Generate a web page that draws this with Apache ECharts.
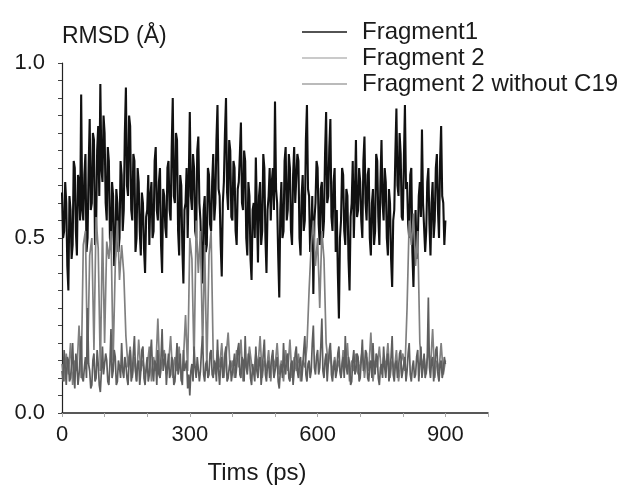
<!DOCTYPE html>
<html>
<head>
<meta charset="utf-8">
<script src="https://cdn.jsdelivr.net/npm/echarts@6/dist/echarts.min.js"></script>
<style>
html,body{margin:0;padding:0;background:#fff;}
#chart{width:628px;height:491px;}
</style>
</head>
<body>
<div id="chart"></div>
<script>
// sampling steps (ps)
const fineStep = 2.5;   // fragment1, fragment2NoC19
const coarseStep = 5;   // fragment2
const xTickLabels = [0, 300, 600, 900];
const yTickLabels = ['0.0', '0.5', '1.0'];
const seriesNames = ['Fragment1', 'Fragment 2', 'Fragment 2 without C19'];

const fragment1 = [
0.63,0.50,0.52,0.66,0.60,0.42,0.35,0.62,0.58,0.44,0.48,0.72,0.70,0.52,0.45,0.68,0.66,0.55,0.91,0.58,
0.55,0.68,0.74,0.46,0.50,0.70,0.84,0.58,0.60,0.80,0.78,0.48,0.52,0.75,0.82,0.62,0.94,0.70,0.66,0.85,
0.80,0.60,0.55,0.76,0.72,0.50,0.48,0.66,0.62,0.42,0.45,0.64,0.60,0.46,0.50,0.72,0.68,0.52,0.58,0.80,
0.93,0.65,0.62,0.85,0.82,0.58,0.55,0.74,0.72,0.46,0.50,0.70,0.66,0.52,0.45,0.63,0.60,0.47,0.40,0.56,
0.58,0.68,0.48,0.62,0.66,0.50,0.52,0.72,0.76,0.58,0.55,0.66,0.70,0.48,0.40,0.64,0.62,0.53,0.50,0.70,
0.72,0.58,0.55,0.76,0.90,0.62,0.60,0.80,0.78,0.52,0.45,0.68,0.65,0.47,0.37,0.58,0.60,0.70,0.50,0.66,
0.86,0.62,0.58,0.74,0.70,0.52,0.50,0.75,0.79,0.60,0.55,0.44,0.37,0.58,0.62,0.46,0.48,0.70,0.68,0.54,
0.52,0.66,0.74,0.55,0.60,0.78,0.88,0.64,0.62,0.48,0.39,0.60,0.66,0.80,0.90,0.63,0.58,0.78,0.75,0.56,
0.55,0.72,0.70,0.52,0.48,0.64,0.66,0.74,0.83,0.60,0.58,0.75,0.72,0.50,0.45,0.66,0.62,0.44,0.38,0.58,
0.60,0.50,0.73,0.58,0.43,0.62,0.66,0.48,0.52,0.74,0.70,0.50,0.40,0.58,0.62,0.70,0.55,0.66,0.70,0.58,
0.89,0.64,0.60,0.45,0.33,0.58,0.66,0.50,0.52,0.72,0.76,0.55,0.58,0.74,0.70,0.52,0.48,0.68,0.76,0.60,
0.60,0.74,0.72,0.50,0.45,0.62,0.68,0.52,0.55,0.78,0.88,0.64,0.62,0.46,0.50,0.62,0.34,0.55,0.60,0.72,
0.70,0.54,0.48,0.64,0.66,0.50,0.55,0.74,0.86,0.60,0.62,0.76,0.84,0.56,0.52,0.66,0.70,0.46,0.58,0.40,
0.27,0.50,0.55,0.70,0.68,0.52,0.48,0.64,0.62,0.44,0.35,0.56,0.60,0.72,0.50,0.62,0.78,0.56,0.58,0.70,
0.66,0.55,0.50,0.72,0.79,0.60,0.55,0.68,0.70,0.50,0.45,0.60,0.64,0.48,0.52,0.74,0.72,0.56,0.48,0.66,
0.78,0.60,0.55,0.70,0.66,0.50,0.45,0.64,0.60,0.44,0.36,0.55,0.58,0.74,0.87,0.65,0.62,0.80,0.74,0.56,
0.55,0.72,0.88,0.64,0.66,0.54,0.50,0.68,0.70,0.46,0.36,0.52,0.58,0.44,0.48,0.62,0.66,0.56,0.81,0.60,
0.60,0.46,0.52,0.66,0.70,0.54,0.45,0.60,0.66,0.50,0.55,0.70,0.74,0.58,0.50,0.72,0.82,0.62,0.60,0.48,
0.55];

const fragment2 = [
0.14,0.09,0.17,0.11,0.20,0.08,0.15,0.12,0.25,0.10,
0.48,0.52,0.14,0.45,0.50,0.18,0.56,0.47,0.12,0.53,
0.20,0.49,0.44,0.52,0.15,0.42,0.55,0.38,0.48,0.40,
0.22,0.13,0.19,0.10,0.16,0.09,0.21,0.12,0.15,0.11,
0.13,0.19,0.09,0.16,0.12,0.27,0.10,0.15,0.18,0.11,
0.14,0.22,0.10,0.16,0.12,0.19,0.09,0.15,0.28,0.12,
0.50,0.44,0.14,0.55,0.40,0.52,0.18,0.48,0.12,0.45,
0.52,0.16,0.11,0.18,0.13,0.20,0.10,0.16,0.23,0.12,
0.15,0.10,0.18,0.13,0.21,0.09,0.16,0.12,0.19,0.14,
0.11,0.17,0.13,0.22,0.10,0.15,0.12,0.18,0.09,0.16,
0.13,0.20,0.11,0.15,0.09,0.18,0.12,0.21,0.10,0.16,
0.12,0.17,0.09,0.15,0.13,0.19,0.35,0.48,0.55,0.42,
0.50,0.30,0.52,0.44,0.20,0.14,0.18,0.11,0.16,0.12,
0.15,0.10,0.18,0.13,0.20,0.09,0.15,0.12,0.17,0.11,
0.14,0.18,0.10,0.16,0.12,0.23,0.09,0.15,0.13,0.19,
0.11,0.16,0.13,0.20,0.10,0.15,0.12,0.18,0.09,0.14,
0.17,0.12,0.30,0.55,0.48,0.57,0.42,0.52,0.20,0.13,
0.16,0.11,0.19,0.13,0.24,0.10,0.15,0.12,0.20,0.11,
0.15];

const fragment2NoC19 = [
0.12,0.09,0.18,0.13,0.08,0.16,0.15,0.09,0.10,0.14,0.20,0.11,0.07,0.17,0.14,0.08,0.11,0.16,0.22,0.10,
0.09,0.13,0.16,0.10,0.30,0.14,0.12,0.07,0.08,0.15,0.17,0.09,0.10,0.18,0.14,0.08,0.06,0.12,0.19,0.11,
0.11,0.17,0.15,0.09,0.08,0.14,0.24,0.10,0.12,0.18,0.16,0.08,0.09,0.15,0.13,0.10,0.20,0.12,0.10,0.16,
0.14,0.10,0.08,0.15,0.18,0.09,0.11,0.17,0.22,0.12,0.09,0.14,0.15,0.08,0.12,0.18,0.19,0.10,0.08,0.13,
0.16,0.09,0.11,0.17,0.21,0.12,0.09,0.15,0.14,0.08,0.18,0.11,0.10,0.16,0.24,0.12,0.12,0.17,0.08,0.13,
0.17,0.10,0.11,0.16,0.15,0.08,0.09,0.14,0.20,0.11,0.13,0.17,0.10,0.08,0.18,0.12,0.12,0.15,0.07,0.11,
0.05,0.12,0.14,0.09,0.19,0.13,0.10,0.16,0.16,0.09,0.12,0.18,0.22,0.11,0.09,0.14,0.15,0.10,0.11,0.17,
0.18,0.11,0.10,0.15,0.14,0.09,0.21,0.12,0.08,0.14,0.16,0.10,0.12,0.17,0.19,0.09,0.10,0.13,0.15,0.09,
0.09,0.14,0.17,0.10,0.13,0.18,0.20,0.11,0.10,0.16,0.15,0.09,0.22,0.13,0.11,0.17,0.16,0.10,0.08,0.14,
0.14,0.09,0.19,0.12,0.10,0.15,0.16,0.08,0.12,0.17,0.21,0.11,0.09,0.14,0.15,0.10,0.13,0.16,0.18,0.10,
0.10,0.14,0.16,0.09,0.07,0.12,0.14,0.10,0.20,0.13,0.11,0.16,0.17,0.10,0.09,0.14,0.15,0.08,0.12,0.17,
0.19,0.12,0.10,0.15,0.16,0.09,0.13,0.18,0.22,0.11,0.09,0.14,0.15,0.10,0.12,0.20,0.25,0.13,0.11,0.16,
0.18,0.11,0.13,0.19,0.27,0.12,0.10,0.15,0.17,0.09,0.14,0.18,0.20,0.11,0.09,0.13,0.15,0.10,0.12,0.17,
0.19,0.12,0.10,0.14,0.16,0.10,0.22,0.13,0.11,0.16,0.14,0.08,0.09,0.15,0.18,0.11,0.12,0.17,0.16,0.09,
0.10,0.15,0.21,0.12,0.13,0.18,0.17,0.10,0.09,0.14,0.15,0.10,0.20,0.13,0.11,0.17,0.16,0.10,0.08,0.13,
0.14,0.10,0.19,0.13,0.10,0.15,0.17,0.09,0.12,0.16,0.22,0.11,0.09,0.14,0.15,0.10,0.13,0.17,0.18,0.10,
0.10,0.14,0.16,0.09,0.12,0.17,0.20,0.11,0.09,0.13,0.15,0.10,0.11,0.16,0.18,0.09,0.14,0.19,0.10,0.13,
0.17,0.10,0.12,0.16,0.33,0.13,0.10,0.15,0.16,0.09,0.13,0.18,0.19,0.11,0.09,0.14,0.15,0.10,0.12,0.16,
0.14];

function pairs(arr, step){ return arr.map((v,i)=>[i*step, v]); }

const FONT = '"Liberation Sans", Arial, sans-serif';
const chart = echarts.init(document.getElementById('chart'), null, {renderer:'canvas'});
chart.setOption({
  backgroundColor:'#ffffff',
  animation:false,
  textStyle:{fontFamily:FONT},
  grid:{left:62, right:140, top:63, bottom:78, containLabel:false},
  legend:{
    orient:'vertical', left:297, top:15, itemWidth:45, itemHeight:1.5, itemGap:2,
    icon:'rect',
    data:[
      {name:seriesNames[0], itemStyle:{color:'#1a1a1a'}},
      {name:seriesNames[1], itemStyle:{color:'#b8b8b8'}},
      {name:seriesNames[2], itemStyle:{color:'#a3a3a3'}}
    ],
    textStyle:{fontFamily:FONT, fontSize:24, color:'#1a1a1a', padding:[0,0,0,10]}
  },
  xAxis:{
    type:'value', min:0, max:1000, interval:100,
    axisLine:{lineStyle:{color:'#222', width:1.5}},
    axisTick:{show:true, length:4, inside:false, lineStyle:{color:'#aaa'}},
    splitLine:{show:false},
    axisLabel:{fontFamily:FONT, fontSize:22, color:'#1a1a1a', margin:11,
      formatter:function(v){ return xTickLabels.indexOf(v)>=0 ? String(v) : ''; }}
  },
  yAxis:{
    type:'value', min:0, max:1, interval:0.5,
    name:'RMSD (Å)', nameLocation:'end', nameGap:15,
    nameTextStyle:{fontFamily:FONT, fontSize:23, color:'#1a1a1a', align:'left', verticalAlign:'bottom'},
    axisLine:{show:true, lineStyle:{color:'#222', width:1.2}},
    axisTick:{show:true, length:4, lineStyle:{color:'#444'}},
    minorTick:{show:true, splitNumber:10, length:4, lineStyle:{color:'#444'}},
    splitLine:{show:false},
    axisLabel:{fontFamily:FONT, fontSize:22, color:'#1a1a1a', margin:17,
      formatter:function(v){ return yTickLabels[Math.round(v*2)]; }}
  },
  graphic:[{type:'text', style:{text:'Tims (ps)', x:257, y:473, fontFamily:FONT, fontSize:24, fill:'#1a1a1a', align:'center', verticalAlign:'middle'}}],
  series:[
    {name:seriesNames[0], type:'line', data:pairs(fragment1, fineStep), symbol:'none', color:'#111', lineStyle:{color:'#111', width:2.1}},
    {name:seriesNames[1], type:'line', data:pairs(fragment2, coarseStep), symbol:'none', color:'#808080', lineStyle:{color:'#808080', width:1.7}},
    {name:seriesNames[2], type:'line', data:pairs(fragment2NoC19, fineStep), symbol:'none', color:'#5e5e5e', lineStyle:{color:'#5e5e5e', width:1.7}}
  ]
});
</script>
</body>
</html>
